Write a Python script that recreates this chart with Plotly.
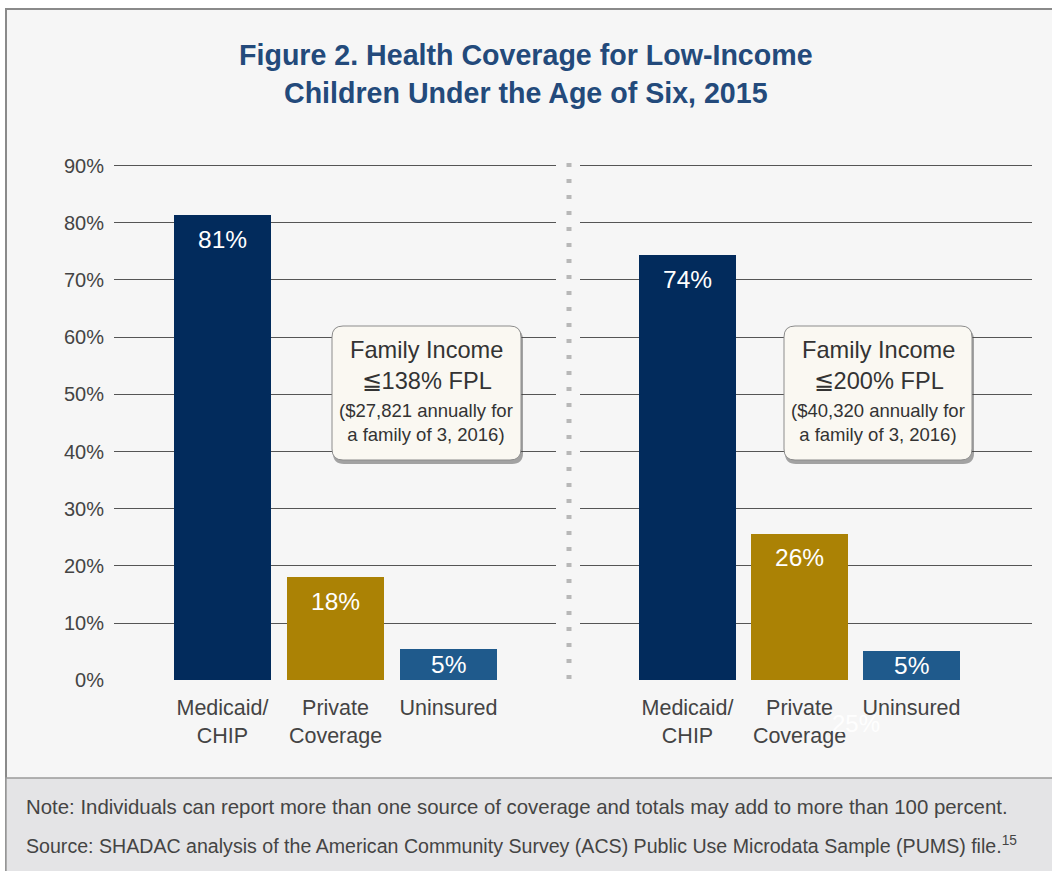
import plotly.graph_objects as go

W, H = 1052, 871

categories = ["Medicaid/<br>CHIP", "Private<br>Coverage", "Uninsured"]
values_138 = [81.3, 18.0, 5.4]
values_200 = [74.3, 25.6, 5.1]
labels_138 = ["81%", "18%", "5%"]
labels_200 = ["74%", "26%", "5%"]
bar_colors = ["#022b5c", "#ab8205", "#1f5a8c"]
ytick_vals = [0, 10, 20, 30, 40, 50, 60, 70, 80, 90]
ytick_text = ["0%", "10%", "20%", "30%", "40%", "50%", "60%", "70%", "80%", "90%"]

title_lines = ["Figure 2. Health Coverage for Low-Income", "Children Under the Age of Six, 2015"]
box_138 = ["Family Income<br>≦138% FPL", "($27,821 annually for<br>a family of 3, 2016)"]
box_200 = ["Family Income<br>≦200% FPL", "($40,320 annually for<br>a family of 3, 2016)"]
note_lines = [
    "Note: Individuals can report more than one source of coverage and totals may add to more than 100 percent.",
    "Source: SHADAC analysis of the American Community Survey (ACS) Public Use Microdata Sample (PUMS) file.<sup>15</sup>",
]
note_sizes = [20.4, 19.6]

FONT = "Liberation Sans, Arial, Helvetica, sans-serif"


def px(x):
    return x / W


def py(y):
    return 1 - y / H


def rounded_rect(x0, y0, x1, y1, r):
    pts = [
        f"M {px(x0 + r)},{py(y0)}",
        f"L {px(x1 - r)},{py(y0)}",
        f"Q {px(x1)},{py(y0)} {px(x1)},{py(y0 + r)}",
        f"L {px(x1)},{py(y1 - r)}",
        f"Q {px(x1)},{py(y1)} {px(x1 - r)},{py(y1)}",
        f"L {px(x0 + r)},{py(y1)}",
        f"Q {px(x0)},{py(y1)} {px(x0)},{py(y1 - r)}",
        f"L {px(x0)},{py(y0 + r)}",
        f"Q {px(x0)},{py(y0)} {px(x0 + r)},{py(y0)}",
        "Z",
    ]
    return " ".join(pts)


fig = go.Figure()

for vals, xa, ya in [(values_138, "x", "y"), (values_200, "x2", "y2")]:
    fig.add_trace(go.Bar(
        x=categories, y=vals, xaxis=xa, yaxis=ya,
        marker=dict(color=bar_colors, line=dict(width=0)),
        width=0.86, showlegend=False, hoverinfo="skip",
    ))

annotations = []
# bar value labels
for vals, labs, xr, yr in [(values_138, labels_138, "x", "y"), (values_200, labels_200, "x2", "y2")]:
    for c, v, t in zip(categories, vals, labs):
        annotations.append(dict(
            x=c, y=max(v - 4.2, v / 2), xref=xr, yref=yr, text=t, showarrow=False,
            xanchor="center", yanchor="middle",
            font=dict(family=FONT, size=24.5, color="#ffffff"),
        ))

# ghost label artifact
annotations.append(dict(x=px(856), y=py(723), xref="paper", yref="paper", text="25%",
                        showarrow=False, xanchor="center", yanchor="middle",
                        font=dict(family=FONT, size=24, color="rgba(255,255,255,0.95)")))

# title
for i, line in enumerate(title_lines):
    annotations.append(dict(x=px(526), y=py(55 + 38 * i), xref="paper", yref="paper",
                            text=f"<b>{line}</b>", showarrow=False,
                            xanchor="center", yanchor="middle",
                            font=dict(family=FONT, size=28.6, color="#234a7b")))

# boxes text
for cx, box in [(426, box_138), (878, box_200)]:
    annotations.append(dict(x=px(cx), y=py(365.5), xref="paper", yref="paper", text=box[0],
                            showarrow=False, xanchor="center", yanchor="middle", align="center",
                            font=dict(family=FONT, size=23.6, color="#333333")))
    annotations.append(dict(x=px(cx), y=py(422.5), xref="paper", yref="paper", text=box[1],
                            showarrow=False, xanchor="center", yanchor="middle", align="center",
                            font=dict(family=FONT, size=18.5, color="#333333")))

# notes
for i, (line, fs) in enumerate(zip(note_lines, note_sizes)):
    annotations.append(dict(x=px(24), y=py(807 + 38 * i), xref="paper", yref="paper", text=line,
                            showarrow=False, xanchor="left", yanchor="middle",
                            font=dict(family=FONT, size=fs, color="#444444")))

shapes = [
    # outer panel
    dict(type="rect", xref="paper", yref="paper", x0=px(6), x1=px(1060), y0=py(880), y1=py(9),
         fillcolor="#f6f6f6", line=dict(color="#8a8a8a", width=2), layer="below"),
    # note band
    dict(type="rect", xref="paper", yref="paper", x0=px(6), x1=px(1060), y0=py(880), y1=py(778),
         fillcolor="#e4e4e6", line=dict(color="#9a9a9a", width=1.5), layer="below"),
    # dotted separator
    dict(type="line", xref="paper", yref="paper", x0=px(569), x1=px(569), y0=py(163), y1=py(680),
         line=dict(color="#b8b8b8", width=5, dash="4px,12px"), layer="above"),
]
for x0, x1 in [(332, 521), (784, 972)]:
    shapes.append(dict(type="path", xref="paper", yref="paper",
                       path=rounded_rect(x0 + 1, 329, x1 + 2, 464, 11),
                       fillcolor="rgba(60,60,60,0.45)", line=dict(width=0), layer="above"))
    shapes.append(dict(type="path", xref="paper", yref="paper",
                       path=rounded_rect(x0, 326, x1, 460, 11),
                       fillcolor="#faf8f2", line=dict(color="#8c8c8c", width=1), layer="above"))

ydom = [py(680.3), py(680.3 - 92 * 5.72)]
yax = dict(domain=ydom, range=[0, 92], tickvals=ytick_vals, ticktext=ytick_text,
           showgrid=True, gridcolor="#555555", gridwidth=1.3, zeroline=False,
           showline=False, ticks="", fixedrange=True, automargin=False,
           tickfont=dict(family=FONT, size=20, color="#444444"))
xax = dict(showgrid=False, zeroline=False, showline=False, ticks="", fixedrange=True,
           automargin=False,
           tickfont=dict(family=FONT, size=21.5, color="#444444"), ticklabelstandoff=12)

fig.update_layout(
    width=W, height=H,
    margin=dict(l=0, r=0, t=0, b=0, pad=0, autoexpand=False),
    paper_bgcolor="#ffffff", plot_bgcolor="rgba(0,0,0,0)",
    bargap=0,
    xaxis=dict(xax, domain=[px(114), px(556)], range=[-0.96, 2.951], anchor="y"),
    xaxis2=dict(xax, domain=[px(580), px(1032)], range=[-0.96, 3.076], anchor="y2"),
    yaxis=dict(yax, anchor="x", ticklabelstandoff=9),
    yaxis2=dict(yax, anchor="x2", showticklabels=False),
    shapes=shapes,
    annotations=annotations,
    font=dict(family=FONT),
)

post = (
    "var st=document.createElement('style');"
    "st.textContent='html,body{margin:0 !important;padding:0 !important;overflow:hidden !important;}';"
    "document.head.appendChild(st);"
)

fig.write_html("out.html", config={"displayModeBar": False}, post_script=post)
